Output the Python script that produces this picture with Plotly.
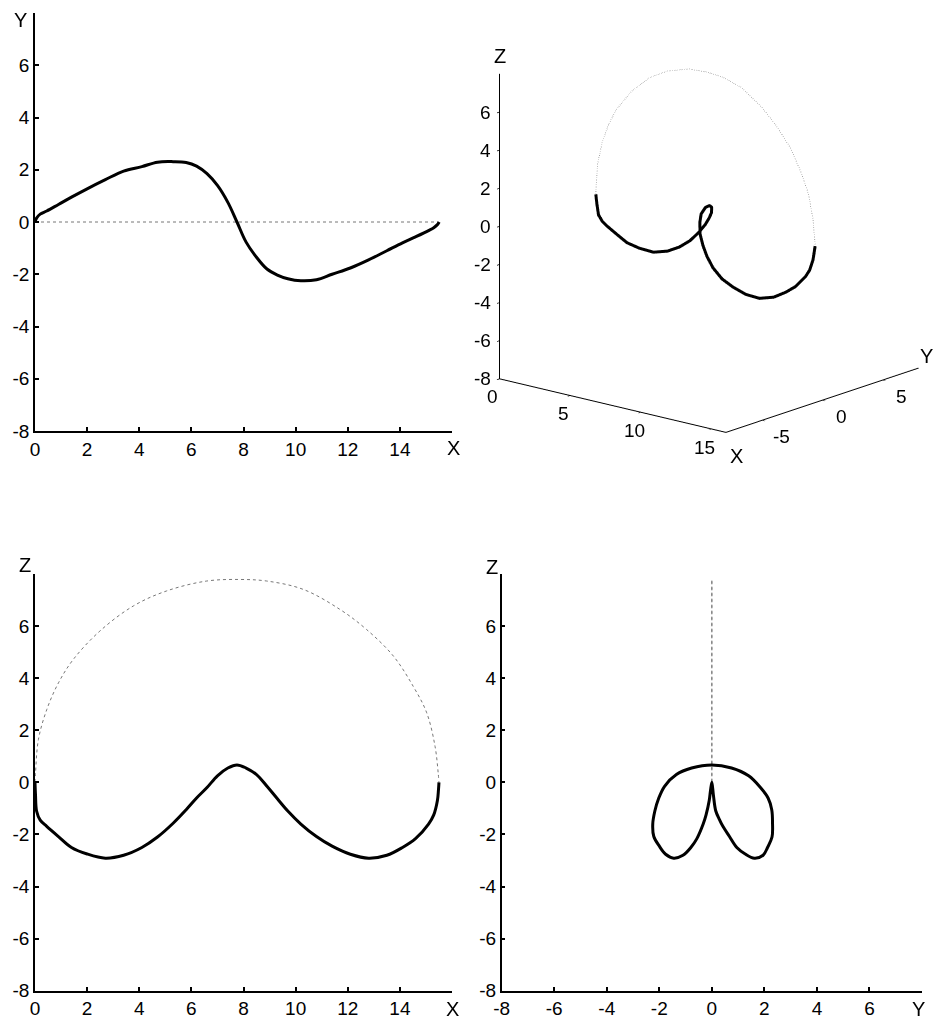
import plotly.graph_objects as go

# Thick (lower) branch of the space curve: x, y, z samples
thick_x = [0.0, 0.02, 0.06, 0.2, 0.45, 0.9, 1.4, 2.0, 2.7, 3.4, 4.1, 4.7, 5.3, 5.8, 6.2,
           6.6, 7.0, 7.4, 7.75, 8.1, 8.5, 8.9, 9.3, 9.7, 10.2, 10.8, 11.4, 12.1, 12.8,
           13.5, 14.1, 14.6, 15.1, 15.3, 15.44, 15.48, 15.5]
thick_y = [0.0, 0.06, 0.15, 0.3, 0.42, 0.67, 0.95, 1.27, 1.62, 1.95, 2.12, 2.29, 2.31, 2.28, 2.14,
           1.85, 1.4, 0.75, 0.0, -0.77, -1.35, -1.8, -2.03, -2.17, -2.25, -2.21, -2.0, -1.76, -1.45,
           -1.1, -0.8, -0.57, -0.33, -0.22, -0.1, -0.05, 0.0]
thick_z = [0.0, -0.5, -1.1, -1.45, -1.69, -2.08, -2.5, -2.75, -2.91, -2.8, -2.5, -2.1, -1.57, -1.05, -0.6,
           -0.2, 0.25, 0.55, 0.67, 0.55, 0.3, -0.15, -0.63, -1.1, -1.6, -2.08, -2.45, -2.76, -2.91,
           -2.8, -2.5, -2.16, -1.6, -1.25, -0.7, -0.3, 0.0]

# Thin (upper) branch: planar arc in y = 0
thin_x = [0.0, 0.02, 0.13, 0.45, 0.9, 1.47, 2.49, 3.77, 5.05, 6.59, 7.86, 8.89, 10.29, 11.70,
          12.72, 13.75, 14.51, 15.03, 15.35, 15.47, 15.5]
thin_y = [0.0, 0.0, 0.0, 0.0, 0.0, 0.0, 0.0, 0.0, 0.0, 0.0, 0.0, 0.0, 0.0, 0.0,
          0.0, 0.0, 0.0, 0.0, 0.0, 0.0, 0.0]
thin_z = [0.0, 0.36, 1.64, 2.79, 3.82, 4.72, 5.81, 6.77, 7.35, 7.73, 7.79, 7.73, 7.41, 6.64,
          5.87, 4.85, 3.69, 2.67, 1.38, 0.36, 0.0]

# Axis ticks
x_ticks = [0, 2, 4, 6, 8, 10, 12, 14, 16]
x_labels = ["0", "2", "4", "6", "8", "10", "12", "14", ""]
v_ticks = [-8, -6, -4, -2, 0, 2, 4, 6, 8]
v_labels = ["-8", "-6", "-4", "-2", "0", "2", "4", "6", ""]
x3_ticks = [0, 5, 10, 15]
y3_ticks = [-5, 0, 5]
z3_ticks = [-8, -6, -4, -2, 0, 2, 4, 6]

W, H = 936, 1021
FONT = "Liberation Sans, Arial, Helvetica, sans-serif"
THICK = dict(color="black", width=3)
THIN = dict(color="#777777", width=1, dash="dot")
TICK_FONT = dict(size=19, color="black", family=FONT)
TITLE_FONT = dict(size=20, color="black", family=FONT)


def px(v):
    return v / W


def py(v):
    return 1 - v / H


fig = go.Figure()

# Panel 1: X-Y
fig.add_trace(go.Scatter(x=thin_x, y=thin_y, mode="lines", line=THIN, xaxis="x", yaxis="y"))
fig.add_trace(go.Scatter(x=thick_x, y=thick_y, mode="lines", line=dict(THICK, shape="spline"),
                         xaxis="x", yaxis="y"))
# Panel 3: X-Z
fig.add_trace(go.Scatter(x=thin_x, y=thin_z, mode="lines", line=dict(THIN, shape="spline"),
                         xaxis="x3", yaxis="y3"))
fig.add_trace(go.Scatter(x=thick_x, y=thick_z, mode="lines", line=dict(THICK, shape="spline"),
                         xaxis="x3", yaxis="y3"))
# Panel 4: Y-Z
fig.add_trace(go.Scatter(x=thin_y, y=thin_z, mode="lines", line=THIN, xaxis="x4", yaxis="y4"))
fig.add_trace(go.Scatter(x=thick_y, y=thick_z, mode="lines", line=dict(THICK, shape="spline"),
                         xaxis="x4", yaxis="y4"))
# Panel 2: 3-D view
fig.add_trace(go.Scatter3d(x=thin_x, y=thin_y, z=thin_z, mode="lines",
                           line=dict(color="#888888", width=1.5, dash="dot"), scene="scene"))
fig.add_trace(go.Scatter3d(x=thick_x, y=thick_y, z=thick_z, mode="lines",
                           line=dict(color="black", width=6), scene="scene"))

axis_common = dict(showline=True, linecolor="black", linewidth=1.5, ticks="inside",
                   ticklen=4, tickwidth=1.5, tickcolor="black", showgrid=False,
                   zeroline=False, tickfont=TICK_FONT, fixedrange=True, automargin=False)

fig.update_layout(
    xaxis=dict(axis_common, domain=[px(35), px(452)], range=[0, 16], tickvals=x_ticks,
               ticktext=x_labels, anchor="y"),
    yaxis=dict(axis_common, domain=[py(431), py(13)], range=[-8, 8], tickvals=v_ticks,
               ticktext=v_labels, anchor="x"),
    xaxis3=dict(axis_common, domain=[px(35), px(452)], range=[0, 16], tickvals=x_ticks,
                ticktext=x_labels, anchor="y3"),
    yaxis3=dict(axis_common, domain=[py(990.7), py(574)], range=[-8, 8], tickvals=v_ticks,
                ticktext=v_labels, anchor="x3"),
    xaxis4=dict(axis_common, domain=[px(501.7), px(922)], range=[-8, 8], tickvals=v_ticks,
                ticktext=v_labels, anchor="y4"),
    yaxis4=dict(axis_common, domain=[py(990.7), py(574)], range=[-8, 8], tickvals=v_ticks,
                ticktext=v_labels, anchor="x4"),
)

ax3d = dict(showline=True, linecolor="black", linewidth=2, showgrid=False, zeroline=False,
            showbackground=False, showspikes=False, ticks="outside", ticklen=4,
            tickcolor="black", tickwidth=1.5, showticklabels=False, title=dict(text=""))

# Horizontal tick labels and axis names for the 3-D box
scene_notes = []
for v in z3_ticks:
    scene_notes.append(dict(x=0, y=-8, z=v, text=str(v), xanchor="right", xshift=-7))
for v in x3_ticks:
    scene_notes.append(dict(x=v, y=-8, z=-8, text=str(v), xshift=-7, yshift=-18))
for v in y3_ticks:
    scene_notes.append(dict(x=16, y=v, z=-8, text=str(v), xshift=19, yshift=-16))
scene_notes += [
    dict(x=0, y=-8, z=8, text="Z", yshift=18, font=TITLE_FONT),
    dict(x=16, y=-8, z=-8, text="X", xshift=11, yshift=-24, font=TITLE_FONT),
    dict(x=16, y=8, z=-8, text="Y", xshift=8, yshift=12, font=TITLE_FONT),
]
for n in scene_notes:
    n.setdefault("font", TICK_FONT)
    n["showarrow"] = False

fig.update_layout(
    scene=dict(
        domain=dict(x=[px(496), px(922)], y=[py(437), py(5)]),
        xaxis=dict(ax3d, range=[0, 16], tickvals=x3_ticks),
        yaxis=dict(ax3d, range=[-8, 8], tickvals=y3_ticks),
        zaxis=dict(ax3d, range=[-8, 8], tickvals=z3_ticks),
        aspectmode="manual",
        aspectratio=dict(x=1.37, y=1.384, z=1.471),
        camera=dict(projection=dict(type="orthographic"),
                    eye=dict(x=1.236, y=-1.468, z=0.562),
                    up=dict(x=0, y=0, z=1), center=dict(x=0, y=0, z=0)),
        annotations=scene_notes,
    )
)

labels = [("Y", 20, 20), ("X", 453, 448), ("Z", 25, 565), ("X", 452, 1009),
          ("Z", 492, 567), ("Y", 918, 1009)]
for txt, lx, ly in labels:
    fig.add_annotation(x=px(lx), y=py(ly), xref="paper", yref="paper", text=txt,
                       showarrow=False, font=TITLE_FONT, xanchor="center", yanchor="middle")

fig.update_layout(template="none", width=W, height=H, margin=dict(l=0, r=0, t=0, b=0),
                  paper_bgcolor="white", plot_bgcolor="white", showlegend=False,
                  font=dict(family=FONT, color="black"))

fig.write_html("out.html")
